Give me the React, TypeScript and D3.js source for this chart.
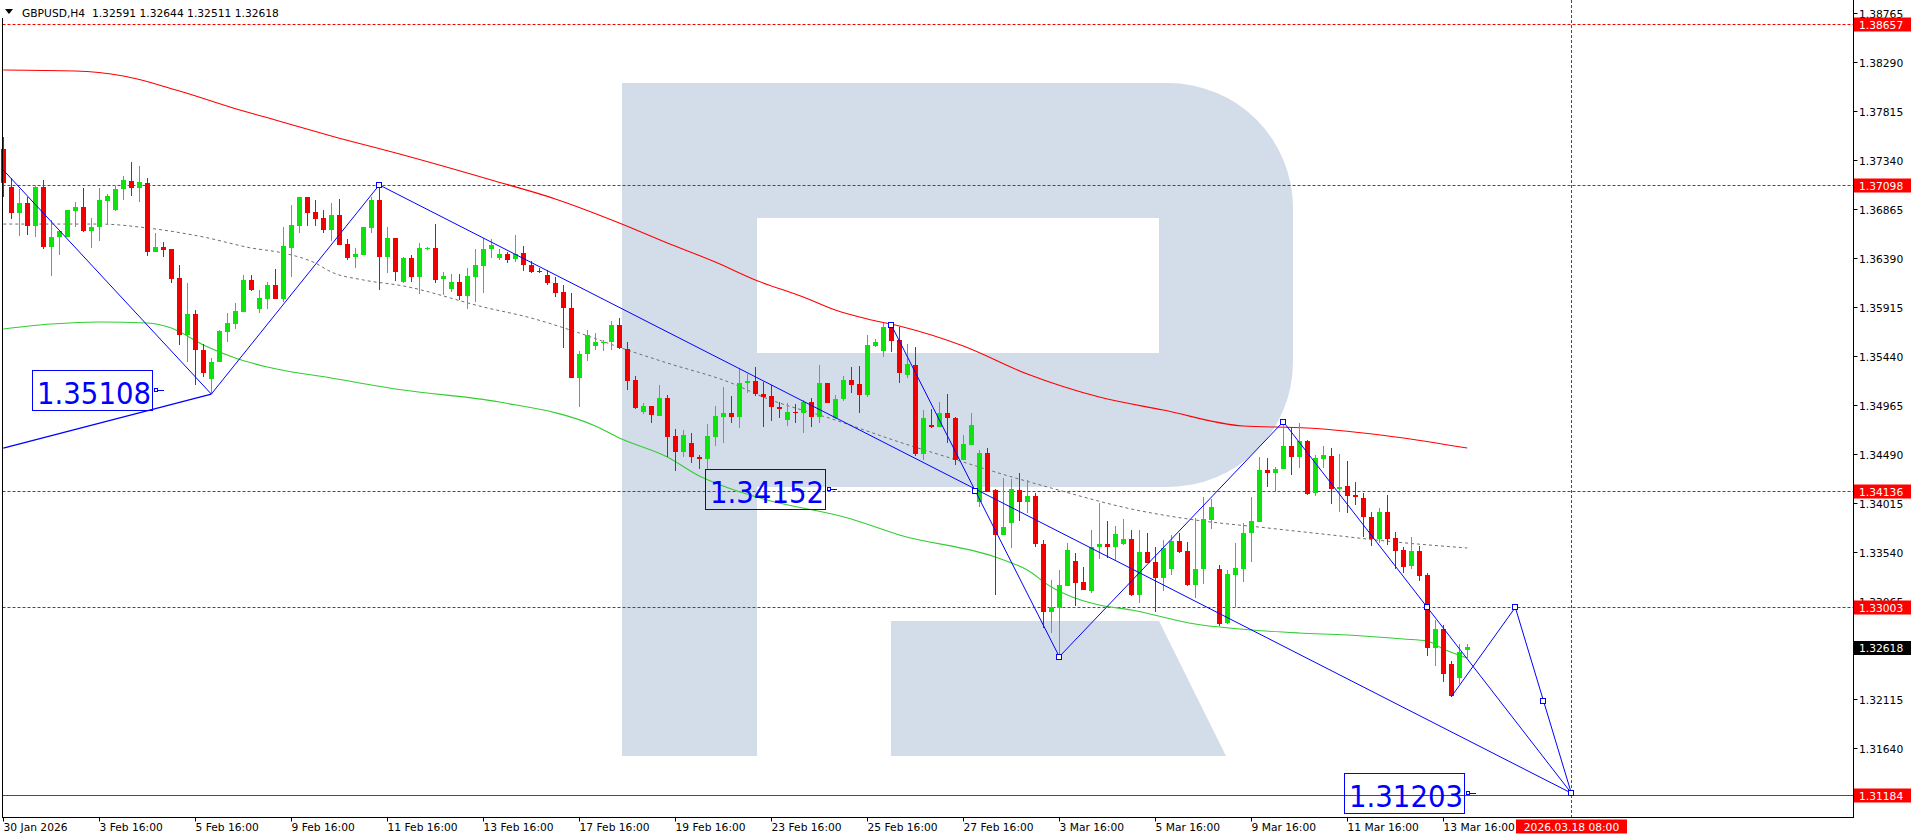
import React from 'react';
import * as d3 from 'd3';

const OPEN = [1.37444,1.37081,1.36823,1.36926,1.36700,1.37081,1.36494,1.36591,1.36597,1.36848,1.36881,1.36652,1.36693,1.36942,1.36855,1.37056,1.37136,1.37072,1.37120,1.36452,1.36500,1.36475,1.36194,1.35644,1.35847,1.35498,1.35219,1.35385,1.35676,1.35750,1.35864,1.36177,1.35893,1.35993,1.36128,1.35993,1.36490,1.36700,1.36984,1.36839,1.36775,1.36661,1.36806,1.36526,1.36397,1.36420,1.36684,1.36952,1.36403,1.36581,1.36160,1.36388,1.36209,1.36478,1.36484,1.36184,1.36087,1.36160,1.36025,1.36209,1.36315,1.36475,1.36388,1.36429,1.36378,1.36436,1.36323,1.36264,1.36225,1.36151,1.36063,1.35903,1.35229,1.35459,1.35539,1.35571,1.35571,1.35740,1.35505,1.35207,1.34900,1.34955,1.34861,1.35029,1.34665,1.34513,1.34594,1.34464,1.34439,1.34658,1.34846,1.34885,1.34846,1.35175,1.35197,1.35071,1.35052,1.34942,1.34820,1.34900,1.34885,1.34997,1.34846,1.35181,1.34836,1.35020,1.35207,1.35168,1.35062,1.35539,1.35491,1.35724,1.35595,1.35255,1.35352,1.34490,1.34771,1.34755,1.34885,1.34836,1.34432,1.34577,1.34028,1.34497,1.34141,1.33705,1.33818,1.34141,1.34028,1.34083,1.33614,1.32961,1.32995,1.33211,1.33452,1.33246,1.33165,1.33591,1.33614,1.33591,1.33614,1.33663,1.33123,1.33537,1.33440,1.33285,1.33372,1.33646,1.33550,1.33220,1.33372,1.33850,1.33372,1.32849,1.33317,1.33378,1.33721,1.33834,1.34335,1.34303,1.34345,1.34567,1.34464,1.34616,1.34109,1.34444,1.34471,1.34148,1.34180,1.34093,1.34060,1.33882,1.33663,1.33925,1.33673,1.33559,1.33404,1.33550,1.33317,1.32606,1.32790,1.32454,1.32316,1.32591];
const HIGH = [1.37566,1.37162,1.37056,1.36984,1.37088,1.37146,1.36758,1.36655,1.36855,1.36936,1.37065,1.36775,1.37065,1.37010,1.37091,1.37185,1.37318,1.37282,1.37162,1.36630,1.36543,1.36475,1.36323,1.36148,1.35886,1.35556,1.35418,1.35692,1.35854,1.35951,1.36225,1.36225,1.36080,1.36154,1.36284,1.36693,1.36904,1.36984,1.36984,1.36952,1.36855,1.36926,1.36959,1.36571,1.36490,1.36693,1.36984,1.37098,1.36688,1.36581,1.36403,1.36420,1.36539,1.36500,1.36717,1.36257,1.36235,1.36235,1.36290,1.36475,1.36587,1.36571,1.36475,1.36452,1.36613,1.36507,1.36361,1.36290,1.36274,1.36209,1.36128,1.36048,1.35491,1.35692,1.35660,1.35595,1.35780,1.35805,1.35571,1.35246,1.34981,1.34955,1.35158,1.35062,1.34730,1.34723,1.34691,1.34480,1.34781,1.34955,1.35142,1.35052,1.35320,1.35265,1.35336,1.35191,1.35158,1.34997,1.34981,1.34975,1.35013,1.35029,1.35352,1.35181,1.35062,1.35246,1.35330,1.35343,1.35644,1.35602,1.35757,1.35750,1.35724,1.35556,1.35530,1.34916,1.34923,1.34997,1.35071,1.34852,1.34674,1.34890,1.34529,1.34545,1.34148,1.34254,1.34245,1.34303,1.34238,1.34115,1.33656,1.33269,1.33365,1.33627,1.33533,1.33397,1.33753,1.34018,1.33843,1.33795,1.33860,1.33753,1.33753,1.33721,1.33585,1.33656,1.33705,1.33727,1.33640,1.33867,1.34076,1.34050,1.33414,1.33365,1.33624,1.33818,1.34076,1.34458,1.34448,1.34367,1.34803,1.34755,1.34793,1.34626,1.34480,1.34567,1.34551,1.34490,1.34422,1.34222,1.34115,1.33925,1.33969,1.34093,1.33731,1.33591,1.33688,1.33601,1.33333,1.32881,1.32832,1.32486,1.32648,1.32644];
const LOW = [1.36984,1.36771,1.36603,1.36613,1.36591,1.36475,1.36216,1.36420,1.36591,1.36693,1.36645,1.36490,1.36558,1.36719,1.36848,1.36952,1.36991,1.36936,1.36410,1.36446,1.36403,1.36151,1.35546,1.35385,1.35158,1.35239,1.35071,1.35385,1.35571,1.35702,1.35864,1.36073,1.35860,1.35893,1.35993,1.35967,1.36203,1.36630,1.36700,1.36700,1.36630,1.36558,1.36516,1.36371,1.36293,1.36420,1.36630,1.36080,1.36245,1.36170,1.36145,1.36160,1.36038,1.36468,1.36151,1.36031,1.36063,1.35983,1.35893,1.35967,1.36054,1.36388,1.36371,1.36345,1.36354,1.36267,1.36242,1.36242,1.36128,1.36015,1.35514,1.35229,1.34942,1.35394,1.35498,1.35491,1.35498,1.35505,1.35110,1.34923,1.34877,1.34793,1.34858,1.34464,1.34328,1.34458,1.34400,1.34342,1.34335,1.34567,1.34594,1.34793,1.34739,1.35078,1.35052,1.34749,1.34813,1.34836,1.34761,1.34793,1.34691,1.34749,1.34787,1.34981,1.34826,1.35006,1.35084,1.34890,1.35045,1.35524,1.35427,1.35482,1.35175,1.35224,1.34471,1.34432,1.34739,1.34755,1.34594,1.34383,1.34432,1.34577,1.33979,1.34124,1.33123,1.33705,1.33576,1.33843,1.33915,1.33591,1.32799,1.32752,1.32525,1.33211,1.33017,1.33172,1.33140,1.33469,1.33479,1.33455,1.33608,1.33113,1.33049,1.33430,1.32961,1.33165,1.33317,1.33533,1.33211,1.33097,1.33230,1.33760,1.32822,1.32842,1.33010,1.33252,1.33446,1.33834,1.34167,1.34124,1.34342,1.34287,1.34357,1.34093,1.34083,1.34351,1.34005,1.33931,1.33921,1.33995,1.33682,1.33601,1.33630,1.33608,1.33372,1.33339,1.33372,1.33259,1.32532,1.32438,1.32283,1.32137,1.32260,1.32511];
const CLOSE = [1.37114,1.36829,1.36926,1.36700,1.37081,1.36494,1.36597,1.36655,1.36855,1.36881,1.36652,1.36693,1.36952,1.36991,1.37059,1.37146,1.37072,1.37130,1.36452,1.36500,1.36468,1.36190,1.35644,1.35847,1.35498,1.35278,1.35385,1.35685,1.35763,1.35876,1.36177,1.36080,1.36005,1.36128,1.35993,1.36507,1.36710,1.36984,1.36829,1.36768,1.36661,1.36806,1.36516,1.36388,1.36429,1.36693,1.36952,1.36403,1.36581,1.36257,1.36388,1.36209,1.36484,1.36484,1.36177,1.36216,1.36160,1.36025,1.36216,1.36323,1.36475,1.36516,1.36429,1.36371,1.36429,1.36323,1.36257,1.36257,1.36151,1.36054,1.35903,1.35229,1.35459,1.35644,1.35571,1.35579,1.35740,1.35514,1.35200,1.34933,1.34955,1.34868,1.35029,1.34658,1.34513,1.34674,1.34458,1.34439,1.34665,1.34858,1.34885,1.34846,1.35181,1.35197,1.35068,1.35045,1.34942,1.34923,1.34900,1.34885,1.34997,1.34846,1.35181,1.34987,1.35020,1.35207,1.35158,1.35062,1.35546,1.35571,1.35724,1.35588,1.35272,1.35362,1.34490,1.34836,1.34749,1.34885,1.34836,1.34432,1.34587,1.34771,1.34497,1.34124,1.33705,1.33785,1.34148,1.34028,1.34083,1.33617,1.32961,1.33004,1.33220,1.33559,1.33243,1.33172,1.33591,1.33614,1.33591,1.33711,1.33663,1.33123,1.33537,1.33436,1.33285,1.33576,1.33646,1.33543,1.33220,1.33372,1.33857,1.33973,1.32842,1.33327,1.33382,1.33727,1.33840,1.34335,1.34303,1.34345,1.34567,1.34464,1.34616,1.34102,1.34448,1.34480,1.34148,1.34167,1.34083,1.34076,1.33876,1.33663,1.33925,1.33666,1.33553,1.33397,1.33550,1.33310,1.32612,1.32790,1.32357,1.32144,1.32573,1.32618];

const RED_MA_IDX = [0, 9, 15, 22, 30, 34, 41, 50, 61, 69, 77, 83, 89, 94, 100, 104, 108, 112, 120, 128, 137, 145, 155, 163, 174, 183];
const RED_MA = [1.38212, 1.38203, 1.38154, 1.38009, 1.37815, 1.37728, 1.37573, 1.37388, 1.37146, 1.36962, 1.36729, 1.36535, 1.36351, 1.36177, 1.36012, 1.35886, 1.35799, 1.35731, 1.35537, 1.35265, 1.35042, 1.34916, 1.34761, 1.34742, 1.34655, 1.34548];
const GREEN_MA_IDX = [0, 6, 12, 18, 21, 25, 29, 33, 41, 50, 62, 74, 77, 83, 87, 91, 95, 106, 112, 124, 128, 131, 133, 137, 141, 149, 156, 162, 168, 175, 178, 180, 183];
const GREEN_MA = [1.35702, 1.35750, 1.35770, 1.35760, 1.35711, 1.35547, 1.35421, 1.35333, 1.35227, 1.35110, 1.34994, 1.34761, 1.34645, 1.34461, 1.34277, 1.34151, 1.34054, 1.33860, 1.33705, 1.33491, 1.33365, 1.33201, 1.33123, 1.33026, 1.32978, 1.32842, 1.32784, 1.32755, 1.32735, 1.32697, 1.32677, 1.32600, 1.32512];
const GRAY_MA_IDX = [0, 12, 18, 25, 31, 35, 39, 41, 45, 50, 60, 66, 72, 78, 83, 91, 95, 104, 112, 120, 124, 131, 141, 149, 158, 166, 174, 183];
const GRAY_MA = [1.36719, 1.36719, 1.36681, 1.36594, 1.36487, 1.36438, 1.36341, 1.36254, 1.36177, 1.36119, 1.35915, 1.35808, 1.35663, 1.35498, 1.35372, 1.35178, 1.35042, 1.34819, 1.34606, 1.34412, 1.34315, 1.34160, 1.33957, 1.33850, 1.33773, 1.33705, 1.33637, 1.33579];

const LEVELS_DASHED = [1.38657, 1.37098, 1.34136, 1.33003];
const LEVEL_SOLID = 1.31184;
const CURRENT_PRICE = 1.32618;
const Y_TICKS = [1.31640, 1.32115, 1.33065, 1.33540, 1.34015, 1.34490, 1.34965, 1.35440, 1.35915, 1.36390, 1.36865, 1.37340, 1.37815, 1.38290, 1.38765];
const X_TICK_IDX = [0, 12, 24, 36, 48, 60, 72, 84, 96, 108, 120, 132, 144, 156, 168, 180];
const X_TICK_LABELS = ['30 Jan 2026', '3 Feb 16:00', '5 Feb 16:00', '9 Feb 16:00', '11 Feb 16:00', '13 Feb 16:00', '17 Feb 16:00', '19 Feb 16:00', '23 Feb 16:00', '25 Feb 16:00', '27 Feb 16:00', '3 Mar 16:00', '5 Mar 16:00', '9 Mar 16:00', '11 Mar 16:00', '13 Mar 16:00'];
const FUTURE_IDX = 196;
const FUTURE_LABEL = '2026.03.18 08:00';

const PATH_A_IDX = [0, 26, 47, 196];
const PATH_A = [1.37243, 1.35071, 1.37098, 1.31203];
const PATH_C_IDX = [0, 26];
const PATH_C = [1.34548, 1.35071];
const PATH_D_IDX = [111, 132, 160, 196];
const PATH_D = [1.35740, 1.32525, 1.34803, 1.31203];
const PATH_E_IDX = [181, 189, 196];
const PATH_E = [1.32137, 1.33003, 1.31203];
const MARK_IDX = [47, 111, 121.5, 132, 160, 178, 189, 192.5, 196];
const MARK_P = [1.37098, 1.35740, 1.34132, 1.32525, 1.34803, 1.33003, 1.33003, 1.32100, 1.31203];
const TAG_IDX = [18.85, 102.96, 182.85];
const TAG_P = [1.35108, 1.34152, 1.31203];

const TITLE = 'GBPUSD,H4  1.32591 1.32644 1.32511 1.32618';

const W = 1916, H = 840;
const PLOT_RIGHT = 1853.5, PLOT_BOTTOM = 817.5, PLOT_LEFT = 2.5;
const BULL = '#0de20d', BEAR = '#f20000', BLUE = '#0000ff', LVL = '#ff0000';
const WM = '#d3dde9';
const FONT = "'DejaVu Sans', Tahoma, sans-serif";

const x = d3.scaleLinear().domain([0, 196]).range([3.3, 1571.3]);
const y = d3.scaleLinear().domain([1.3164, 1.38765]).range([748, 13]);

function maPath(idx: number[], vals: number[]) {
  const line = d3.line<number>().x((_, k) => x(idx[k])).y((v) => y(v)).curve(d3.curveMonotoneX);
  return line(vals) || '';
}
function polyPath(idx: number[], vals: number[]) {
  const line = d3.line<number>().x((_, k) => x(idx[k])).y((v) => y(v));
  return line(vals) || '';
}

export default function App() {
  return (
    <div style={{ position: 'absolute', left: 0, top: 0, width: W, height: H, background: '#fff' }}>
      <svg width={W} height={H} style={{ display: 'block' }}>
        <rect x={0} y={0} width={W} height={H} fill="#fff" />
        {/* watermark R */}
        <path d="M622,83 H1168 A125,125 0 0 1 1293,208 V362 A125,125 0 0 1 1168,487 H757 V756 H622 Z M757,218 H1159 V353 H757 Z" fill={WM} fillRule="evenodd" />
        <path d="M891,621 H1159 L1226,756 H891 Z" fill={WM} />

        {/* levels */}
        {LEVELS_DASHED.map((p, k) => (
          <line key={'lv' + k} x1={PLOT_LEFT} x2={PLOT_RIGHT} y1={Math.round(y(p)) + 0.5} y2={Math.round(y(p)) + 0.5} stroke={LVL} strokeDasharray="3,2" />
        ))}
        <line x1={PLOT_LEFT} x2={PLOT_RIGHT} y1={Math.round(y(LEVEL_SOLID)) + 0.5} y2={Math.round(y(LEVEL_SOLID)) + 0.5} stroke={LVL} />
        <line x1={Math.round(x(FUTURE_IDX)) + 0.5} x2={Math.round(x(FUTURE_IDX)) + 0.5} y1={0} y2={PLOT_BOTTOM} stroke={LVL} strokeDasharray="3,2" />

        {/* moving averages */}
        <path d={maPath(RED_MA_IDX, RED_MA)} fill="none" stroke="#ff0000" strokeWidth={1.1} />
        <path d={maPath(GREEN_MA_IDX, GREEN_MA)} fill="none" stroke="#32cd32" strokeWidth={1.1} />
        <path d={maPath(GRAY_MA_IDX, GRAY_MA)} fill="none" stroke="#6e6e6e" strokeWidth={1} strokeDasharray="3,3" />

        {/* candles */}
        <g shapeRendering="crispEdges">
          {OPEN.map((o, i) => {
            const c = CLOSE[i];
            const up = c >= o;
            const col = up ? BULL : BEAR;
            const cx = Math.round(x(i));
            const yTop = Math.round(y(Math.max(o, c)));
            const yBot = Math.round(y(Math.min(o, c)));
            return (
              <g key={'c' + i}>
                <rect x={cx} y={Math.round(y(HIGH[i]))} width={1} height={Math.max(1, Math.round(y(LOW[i])) - Math.round(y(HIGH[i])))} fill={col} />
                <rect x={cx - 2} y={yTop} width={5} height={Math.max(1, yBot - yTop)} fill={col} />
              </g>
            );
          })}
        </g>

        {/* blue analysis lines */}
        <path d={polyPath(PATH_A_IDX, PATH_A)} fill="none" stroke={BLUE} strokeWidth={1} />
        <path d={polyPath(PATH_C_IDX, PATH_C)} fill="none" stroke={BLUE} strokeWidth={1.3} />
        <path d={polyPath(PATH_D_IDX, PATH_D)} fill="none" stroke={BLUE} strokeWidth={1} />
        <path d={polyPath(PATH_E_IDX, PATH_E)} fill="none" stroke={BLUE} strokeWidth={1} />
        {MARK_IDX.map((mi, k) => (
          <rect key={'m' + k} x={Math.round(x(mi)) - 2.5} y={Math.round(y(MARK_P[k])) - 2.5} width={5} height={5} fill="#fff" stroke={BLUE} strokeWidth={1} />
        ))}

        {/* price tags */}
        {TAG_IDX.map((ti, k) => {
          const ax = Math.round(x(ti));
          const py = Math.round(y(TAG_P[k]));
          return (
            <g key={'t' + k}>
              <rect x={ax - 121.5} y={py - 19.5} width={120} height={40} fill="none" stroke={BLUE} strokeWidth={1} />
              <text x={ax - 117} y={py + 14} fontFamily={FONT} fontSize={30} fill={BLUE} textLength={114} lengthAdjust="spacingAndGlyphs">{TAG_P[k].toFixed(5)}</text>
              <rect x={ax + 0.5} y={py - 1.5} width={3} height={3} fill="#fff" stroke={BLUE} strokeWidth={1} />
              <line x1={ax + 4} x2={ax + 10} y1={py + 0.5} y2={py + 0.5} stroke={BLUE} />
            </g>
          );
        })}

        {/* frame */}
        <g shapeRendering="crispEdges">
          <line x1={PLOT_LEFT} x2={PLOT_LEFT} y1={18} y2={PLOT_BOTTOM} stroke="#000" />
          <line x1={PLOT_LEFT} x2={PLOT_RIGHT} y1={PLOT_BOTTOM} y2={PLOT_BOTTOM} stroke="#000" />
          <line x1={PLOT_RIGHT} x2={PLOT_RIGHT} y1={0} y2={PLOT_BOTTOM} stroke="#000" />
        </g>

        {/* y axis */}
        {Y_TICKS.map((t, k) => {
          const yy = Math.round(y(t)) + 0.5;
          return (
            <g key={'y' + k}>
              <line x1={PLOT_RIGHT} x2={PLOT_RIGHT + 4} y1={yy} y2={yy} stroke="#000" />
              <text x={1859} y={yy + 4} fontFamily={FONT} fontSize={10.7} fill="#000">{t.toFixed(5)}</text>
            </g>
          );
        })}
        {[...LEVELS_DASHED, LEVEL_SOLID].map((p, k) => {
          const yy = Math.round(y(p));
          return (
            <g key={'rl' + k}>
              <rect x={1854} y={yy - 6.5} width={57} height={14} fill="#ff0000" />
              <text x={1859} y={yy + 4.5} fontFamily={FONT} fontSize={10.7} fill="#fff">{p.toFixed(5)}</text>
            </g>
          );
        })}
        <g>
          <rect x={1854} y={Math.round(y(CURRENT_PRICE)) - 6} width={57} height={14} fill="#000" />
          <text x={1859} y={Math.round(y(CURRENT_PRICE)) + 5} fontFamily={FONT} fontSize={10.7} fill="#fff">{CURRENT_PRICE.toFixed(5)}</text>
        </g>

        {/* x axis */}
        {X_TICK_IDX.map((ti, k) => {
          const xx = Math.round(x(ti)) + 0.5;
          return (
            <g key={'x' + k}>
              <line x1={xx} x2={xx} y1={PLOT_BOTTOM} y2={PLOT_BOTTOM + 4} stroke="#000" />
              <text x={xx} y={831} fontFamily={FONT} fontSize={10.7} fill="#000">{X_TICK_LABELS[k]}</text>
            </g>
          );
        })}
        <rect x={Math.round(x(FUTURE_IDX)) - 55} y={819.5} width={111} height={14} fill="#ff0000" />
        <text x={Math.round(x(FUTURE_IDX)) + 0.5} y={831} textAnchor="middle" fontFamily={FONT} fontSize={10.7} fill="#fff">{FUTURE_LABEL}</text>

        {/* title */}
        <path d="M5,9 L13,9 L9,14 Z" fill="#000" />
        <text x={22} y={17} fontFamily={FONT} fontSize={10.7} fill="#000" xmlSpace="preserve">{TITLE}</text>
      </svg>
    </div>
  );
}
